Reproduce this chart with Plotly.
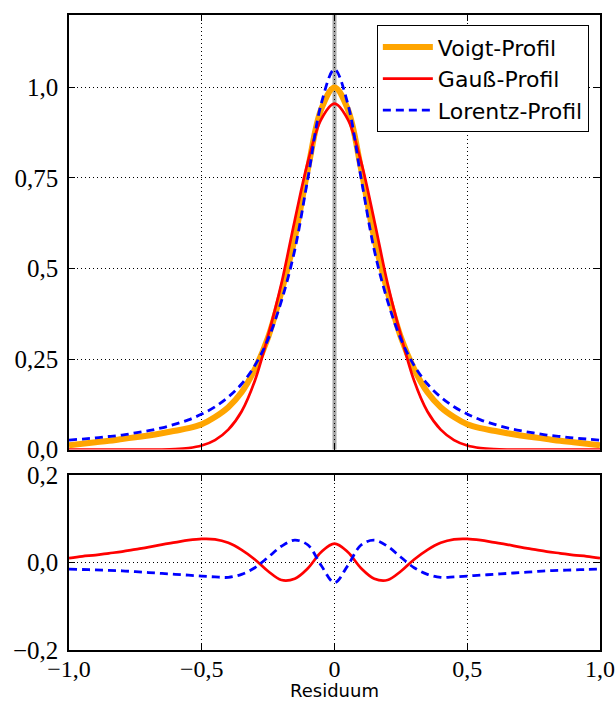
import plotly.graph_objects as go

# ---- data ----
x = [-1.0, -0.95, -0.9, -0.85, -0.8, -0.75, -0.7, -0.65, -0.6, -0.55, -0.5,
     -0.45, -0.4, -0.35, -0.3, -0.25, -0.2, -0.15, -0.1, -0.05, 0.0,
     0.05, 0.1, 0.15, 0.2, 0.25, 0.3, 0.35, 0.4, 0.45, 0.5,
     0.55, 0.6, 0.65, 0.7, 0.75, 0.8, 0.85, 0.9, 0.95, 1.0]

voigt = [0.012, 0.016, 0.020, 0.024, 0.029, 0.034, 0.039, 0.045, 0.052, 0.059, 0.070,
         0.090, 0.117, 0.158, 0.222, 0.310, 0.435, 0.583, 0.775, 0.940, 1.000,
         0.940, 0.775, 0.583, 0.435, 0.310, 0.222, 0.158, 0.117, 0.090, 0.070,
         0.059, 0.052, 0.045, 0.039, 0.034, 0.029, 0.024, 0.020, 0.016, 0.012]

gauss = [0.000, 0.000, 0.000, 0.000, 0.000, 0.000, 0.000, 0.000, 0.001, 0.004, 0.011,
         0.026, 0.055, 0.105, 0.190, 0.315, 0.458, 0.632, 0.795, 0.912, 0.955,
         0.912, 0.795, 0.632, 0.458, 0.315, 0.190, 0.105, 0.055, 0.026, 0.011,
         0.004, 0.001, 0.000, 0.000, 0.000, 0.000, 0.000, 0.000, 0.000, 0.000]

lorentz = [0.026, 0.029, 0.032, 0.036, 0.040, 0.046, 0.052, 0.060, 0.070, 0.082, 0.098,
           0.118, 0.145, 0.181, 0.232, 0.305, 0.410, 0.550, 0.750, 0.955, 1.050,
           0.955, 0.750, 0.550, 0.410, 0.305, 0.232, 0.181, 0.145, 0.118, 0.098,
           0.082, 0.070, 0.060, 0.052, 0.046, 0.040, 0.036, 0.032, 0.029, 0.026]

res_gauss = [0.010, 0.014, 0.017, 0.021, 0.025, 0.030, 0.035, 0.041, 0.046, 0.051, 0.054,
             0.053, 0.045, 0.029, 0.007, -0.020, -0.040, -0.037, -0.013, 0.024, 0.043,
             0.024, -0.013, -0.037, -0.040, -0.020, 0.007, 0.029, 0.045, 0.053, 0.054,
             0.051, 0.046, 0.041, 0.035, 0.030, 0.025, 0.021, 0.017, 0.014, 0.010]

res_lorentz = [-0.015, -0.016, -0.017, -0.018, -0.019, -0.021, -0.023, -0.025, -0.027, -0.029, -0.031,
               -0.033, -0.034, -0.027, -0.012, 0.012, 0.037, 0.051, 0.040, -0.007, -0.046,
               -0.007, 0.040, 0.051, 0.037, 0.012, -0.012, -0.027, -0.034, -0.033, -0.031,
               -0.029, -0.027, -0.025, -0.023, -0.021, -0.019, -0.018, -0.017, -0.016, -0.015]

names = ["Voigt-Profil", "Gauß-Profil", "Lorentz-Profil"]

x_tickvals = [-1.0, -0.5, 0.0, 0.5, 1.0]
x_ticktext = ["−1,0", "−0,5", "0", "0,5", "1,0"]
y_tickvals = [0.0, 0.25, 0.5, 0.75, 1.0]
y_ticktext = ["0,0", "0,25", "0,5", "0,75", "1,0"]
y2_tickvals = [-0.2, 0.0, 0.2]
y2_ticktext = ["−0,2", "0,0", "0,2"]
x_title = "Residuum"

# ---- figure ----
fig = go.Figure()
fig.add_trace(go.Scatter(x=x, y=voigt, name=names[0], mode="lines",
                         line=dict(color="#FFA500", width=6, shape="spline", smoothing=1.0),
                         xaxis="x", yaxis="y"))
fig.add_trace(go.Scatter(x=x, y=gauss, name=names[1], mode="lines",
                         line=dict(color="#FF0000", width=2.7, shape="spline", smoothing=1.0),
                         xaxis="x", yaxis="y"))
fig.add_trace(go.Scatter(x=x, y=lorentz, name=names[2], mode="lines",
                         line=dict(color="#0000FF", width=2.8, dash="8px,5px", shape="spline", smoothing=1.0),
                         xaxis="x", yaxis="y"))
fig.add_trace(go.Scatter(x=x, y=res_gauss, mode="lines", showlegend=False,
                         line=dict(color="#FF0000", width=2.7, shape="spline", smoothing=1.0),
                         xaxis="x2", yaxis="y2"))
fig.add_trace(go.Scatter(x=x, y=res_lorentz, mode="lines", showlegend=False,
                         line=dict(color="#0000FF", width=2.8, dash="8px,5px", shape="spline", smoothing=1.0),
                         xaxis="x2", yaxis="y2"))

tick_font = dict(family="Liberation Serif", size=25, color="black")
common = dict(showline=True, linecolor="black", linewidth=1.5, mirror="allticks",
              ticks="inside", ticklen=6, tickwidth=1, tickcolor="black",
              showgrid=True, gridcolor="black", gridwidth=1, griddash="1px,3px",
              zeroline=False, automargin=False)

fig.update_layout(
    width=616, height=702,
    margin=dict(l=69, r=16, t=15, b=52),
    paper_bgcolor="white", plot_bgcolor="white",
    xaxis=dict(domain=[0, 1], anchor="y", range=[-1, 1], tickvals=x_tickvals,
               showticklabels=False, matches="x2", tickfont=tick_font, **common),
    yaxis=dict(domain=[0.3157, 1], anchor="x", range=[0, 1.2], tickvals=y_tickvals,
               ticktext=y_ticktext, ticklabelstandoff=4, tickfont=tick_font, **common),
    xaxis2=dict(domain=[0, 1], anchor="y2", range=[-1, 1], tickvals=x_tickvals,
                ticktext=x_ticktext, ticklabelstandoff=-4,
                tickfont=dict(family="Liberation Serif", size=24, color="black"), **common),
    yaxis2=dict(domain=[0, 0.2756], anchor="x2", range=[-0.2, 0.2], tickvals=y2_tickvals,
                ticktext=y2_ticktext, ticklabelstandoff=4, tickfont=tick_font, **common),
    legend=dict(x=0.979, y=0.984, xanchor="right", yanchor="top",
                bgcolor="white", bordercolor="black", borderwidth=1,
                font=dict(family="DejaVu Sans", size=22, color="black"),
                itemwidth=50),
    annotations=[dict(text=x_title, xref="paper", yref="paper", x=0.5, y=-0.0819,
                      xanchor="center", yanchor="bottom", showarrow=False, borderpad=0,
                      font=dict(family="DejaVu Sans", size=18, color="black"))],
    shapes=[dict(type="line", xref="x", yref="y domain", x0=0, x1=0, y0=0, y1=1,
                 line=dict(color="rgba(128,128,128,0.7)", width=4), layer="below")],
)

fig.write_html("out.html")
